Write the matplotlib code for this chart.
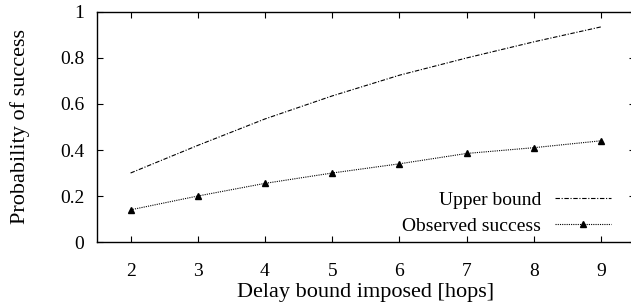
import matplotlib
matplotlib.use("Agg")
import matplotlib.pyplot as plt

plt.rcParams['font.family'] = ['Liberation Serif', 'DejaVu Serif']

# Data
hops = [2, 3, 4, 5, 6, 7, 8, 9]
upper_bound = [0.30, 0.42, 0.535, 0.635, 0.725, 0.80, 0.87, 0.935]
observed = [0.14, 0.20, 0.255, 0.30, 0.34, 0.385, 0.41, 0.44]

fig = plt.figure(figsize=(6.31, 3.06), dpi=100)
ax = fig.add_axes([0.1537, 0.209, 0.852, 0.752])

ax.plot(hops, upper_bound, color='black', lw=0.8, ls=(0, (4, 1.5, 1, 1.5)),
        label='Upper bound')
ax.plot(hops, observed, color='black', lw=0.8, ls=(0, (1, 1)),
        marker='^', ms=4.5, label='Observed success')

ax.set_xlim(1.5, 9.5)
ax.set_ylim(0, 1)
ax.set_xticks(hops)
ax.set_yticks([0, 0.2, 0.4, 0.6, 0.8, 1])
ax.set_yticklabels(['0', '0.2', '0.4', '0.6', '0.8', '1'])
ax.tick_params(direction='in', top=True, right=True, labelsize=14, length=4)
ax.tick_params(axis='x', pad=15)
ax.tick_params(axis='y', pad=9)
for s in ax.spines.values():
    s.set_linewidth(1.0)

ax.set_xlabel('Delay bound imposed [hops]', fontsize=16, labelpad=2)
ax.set_ylabel('Probability of success', fontsize=16, labelpad=22)

ax.legend(loc='lower right', frameon=False, markerfirst=False, fontsize=14,
          handlelength=2.9, handletextpad=0.7, labelspacing=0.4,
          bbox_to_anchor=(0.974, -0.01), borderaxespad=0.1)

fig.savefig('out.png', dpi=100)
